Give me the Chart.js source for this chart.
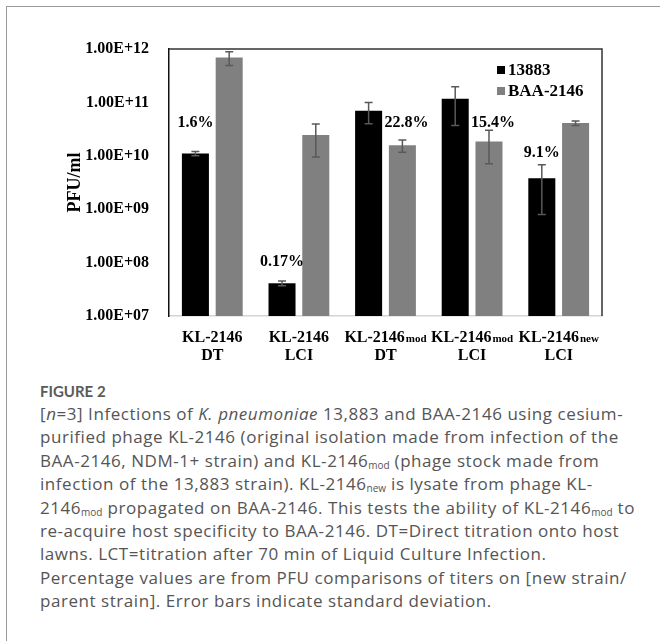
<!DOCTYPE html>
<html>
<head>
<meta charset="utf-8">
<script src="https://cdn.jsdelivr.net/npm/chart.js@4.4.1/dist/chart.umd.min.js"></script>
<style>
  body { margin: 0; background: #fff; width: 660px; height: 641px; overflow: hidden; position: relative; }
  #frame { position: absolute; left: 6px; top: 6px; width: 660px; height: 650px; border-left: 1.5px solid #9a9a9a; border-top: 1.5px solid #9a9a9a; }
  #wrap { position: absolute; left: 0; top: 0; width: 660px; height: 370px; }
  #cap { position: absolute; left: 40px; top: 380px; font-family: "Open Sans", sans-serif; font-size: 17px; letter-spacing: 0.55px; line-height: 23.4px; color: #555; }
  #cap div { white-space: nowrap; }
  #cap .fig { font-family: Lato, sans-serif; font-weight: bold; font-size: 15px; letter-spacing: 0; line-height: 22px; color: #5a5a5a; }
  #cap sub { font-size: 10px; letter-spacing: 0; vertical-align: -2px; line-height: 0; }
</style>
</head>
<body>
<div id="frame"></div>
<div id="wrap"><canvas id="chart" width="660" height="370"></canvas></div>
<div id="cap">
  <div class="fig">FIGURE 2</div>
  <div>[<i>n</i>=3] Infections of <i>K. pneumoniae</i> 13,883 and BAA-2146 using cesium-</div>
  <div>purified phage KL-2146 (original isolation made from infection of the</div>
  <div>BAA-2146, NDM-1+ strain) and KL-2146<sub>mod</sub> (phage stock made from</div>
  <div>infection of the 13,883 strain). KL-2146<sub>new</sub> is lysate from phage KL-</div>
  <div>2146<sub>mod</sub> propagated on BAA-2146. This tests the ability of KL-2146<sub>mod</sub> to</div>
  <div>re-acquire host specificity to BAA-2146. DT=Direct titration onto host</div>
  <div>lawns. LCT=titration after 70 min of Liquid Culture Infection.</div>
  <div>Percentage values are from PFU comparisons of titers on [new strain/</div>
  <div>parent strain]. Error bars indicate standard deviation.</div>
</div>
<script>
// categories, split into the parts drawn on the x axis
let labelMain = ['KL-2146', 'KL-2146', 'KL-2146', 'KL-2146', 'KL-2146']
let labelSub = ['', '', 'mod', 'mod', 'new']
let labelLine2 = ['DT', 'LCI', 'DT', 'LCI', 'LCI']

// PFU/ml, mean and standard deviation
let seriesNames = ['13883', 'BAA-2146']
let values13883 = [1.1e10, 4.1e7, 7.0e10, 1.17e11, 3.8e9]
let err13883 = [0.1e10, 0.4e7, 3.0e10, 0.8e11, 3.0e9]
let valuesBAA = [6.9e11, 2.45e10, 1.57e10, 1.86e10, 4.1e10]
let errBAA = [2.0e11, 1.5e10, 0.4e10, 1.15e10, 0.4e10]

// percentage notes: text, which bar they sit over, and the height (PFU/ml) they sit at
let pctText = ['1.6%', '0.17%', '22.8%', '15.4%', '9.1%']
let pctSeries = [0, 0, 1, 1, 0]
let pctAt = [4.2e10, 1.05e8, 4.2e10, 4.2e10, 1.15e10]

let yTicks = [1e7, 1e8, 1e9, 1e10, 1e11, 1e12]

const serif = '"Liberation Serif", "Times New Roman", serif'

let extras = {
  id: 'extras',
  afterDatasetsDraw(chart) {
    let ctx = chart.ctx
    let a = chart.chartArea
    let y = chart.scales.y
    let x = chart.scales.x
    ctx.save()

    // top and right frame of the plot
    ctx.strokeStyle = '#333'
    ctx.lineWidth = 1.5
    ctx.beginPath()
    ctx.moveTo(a.left, a.top)
    ctx.lineTo(a.right, a.top)
    ctx.lineTo(a.right, a.bottom)
    ctx.stroke()

    // error bars
    ctx.strokeStyle = '#595959'
    ctx.lineWidth = 1.5
    chart.data.datasets.forEach((ds, di) => {
      let meta = chart.getDatasetMeta(di)
      meta.data.forEach((bar, i) => {
        let v = ds.data[i], e = ds.errors[i]
        let yt = y.getPixelForValue(v + e)
        let yb = y.getPixelForValue(v - e)
        ctx.beginPath()
        ctx.moveTo(bar.x, yt); ctx.lineTo(bar.x, yb)
        ctx.moveTo(bar.x - 4, yt); ctx.lineTo(bar.x + 4, yt)
        ctx.moveTo(bar.x - 4, yb); ctx.lineTo(bar.x + 4, yb)
        ctx.stroke()
      })
    })

    // percentage notes
    ctx.fillStyle = '#000'
    ctx.font = 'bold 16px ' + serif
    ctx.textAlign = 'center'
    ctx.textBaseline = 'middle'
    pctText.forEach((t, i) => {
      let bar = chart.getDatasetMeta(pctSeries[i]).data[i]
      ctx.fillText(t, bar.x + (pctSeries[i] ? 4 : 0), y.getPixelForValue(pctAt[i]))
    })

    // legend, top right inside the plot
    ctx.textAlign = 'left'
    ctx.font = 'bold 17px ' + serif
    chart.data.datasets.forEach((ds, di) => {
      let ly = a.top + 21 + di * 21
      ctx.fillStyle = ds.backgroundColor
      ctx.fillRect(a.right - 105, ly - 4, 8, 8)
      ctx.fillStyle = '#000'
      ctx.fillText(ds.label, a.right - 94, ly + 1)
    })

    // category labels with subscripts
    labelMain.forEach((m, i) => {
      let cx = x.getPixelForValue(i)
      ctx.font = 'bold 16px ' + serif
      let wm = ctx.measureText(m).width
      ctx.font = 'bold 11px ' + serif
      let ws = labelSub[i] ? ctx.measureText(labelSub[i]).width + 1 : 0
      let sx = cx - (wm + ws) / 2
      ctx.textAlign = 'left'
      ctx.textBaseline = 'alphabetic'
      ctx.font = 'bold 16px ' + serif
      ctx.fillText(m, sx, a.bottom + 26)
      if (labelSub[i]) {
        ctx.font = 'bold 11px ' + serif
        ctx.fillText(labelSub[i], sx + wm + 1, a.bottom + 26)
      }
      ctx.font = 'bold 16px ' + serif
      ctx.textAlign = 'center'
      ctx.fillText(labelLine2[i], cx, a.bottom + 44)
    })

    // y axis title
    ctx.translate(75, (a.top + a.bottom) / 2)
    ctx.rotate(-Math.PI / 2)
    ctx.textAlign = 'center'
    ctx.textBaseline = 'middle'
    ctx.font = 'bold 18px ' + serif
    ctx.fillText('PFU/ml', 0, 0)
    ctx.restore()
  }
}

let ctx = document.querySelector('#chart').getContext('2d')

let chart = new Chart(ctx, {
  type: 'bar',
  data: {
    labels: labelMain.map((m, i) => m + labelSub[i] + ' ' + labelLine2[i]),
    datasets: [{
      label: seriesNames[0],
      data: values13883,
      errors: err13883,
      backgroundColor: '#000000',
      categoryPercentage: 0.78,
      barPercentage: 0.8
    }, {
      label: seriesNames[1],
      data: valuesBAA,
      errors: errBAA,
      backgroundColor: '#808080',
      categoryPercentage: 0.78,
      barPercentage: 0.8
    }]
  },
  options: {
    responsive: false,
    animation: false,
    layout: { padding: { left: 0, top: 49, right: 58, bottom: 54 } },
    plugins: { legend: { display: false }, tooltip: { enabled: false } },
    scales: {
      x: {
        grid: { display: false },
        ticks: { display: false },
        border: { color: '#d4d4d4', width: 1.5 },
        afterFit: s => { s.height = 0 }
      },
      y: {
        type: 'logarithmic',
        min: yTicks[0],
        max: yTicks[yTicks.length - 1],
        grid: { display: false },
        border: { color: '#111', width: 1.5 },
        afterBuildTicks: s => { s.ticks = yTicks.map(v => ({ value: v })) },
        afterFit: s => { s.width = 169 },
        ticks: {
          autoSkip: false,
          padding: 12,
          color: '#000',
          font: { family: serif, size: 16, weight: 'bold' },
          callback: v => '1.00E+' + String(Math.round(Math.log10(v))).padStart(2, '0')
        }
      }
    }
  },
  plugins: [extras]
})
</script>
</body>
</html>
